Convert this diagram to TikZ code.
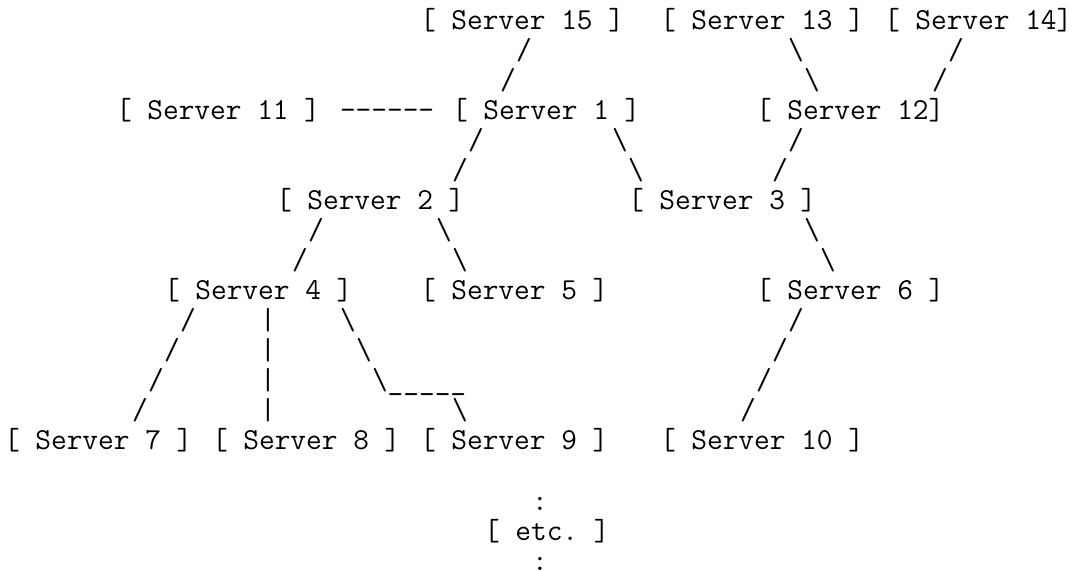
\documentclass[tikz,border=0pt]{standalone}
\usepackage{tikz}
\usetikzlibrary{positioning}
\frenchspacing
\newcommand{\asciifont}{\fontsize{22.86bp}{27bp}\selectfont\ttfamily}

\begin{document}
\begin{tikzpicture}[x=12bp,y=-22.5bp,
  glyph/.style={font=\asciifont,inner sep=0pt,outer sep=0pt,anchor=base west}]
\useasboundingbox (0,0) rectangle (67.25,19.03);
% servers: name / column / row / text
\foreach \n/\c/\r/\lab in {s15/26/1/{[ Server 15 ]},s13/41/1/{[ Server 13 ]},s14/55/1/{[ Server 14]},
  s11/7/4/{[ Server 11 ]},s1/28/4/{[ Server 1 ]},s12/47/4/{[ Server 12]},
  s2/17/7/{[ Server 2 ]},s3/39/7/{[ Server 3 ]},
  s4/10/10/{[ Server 4 ]},s5/26/10/{[ Server 5 ]},s6/47/10/{[ Server 6 ]},
  s7/0/15/{[ Server 7 ]},s8/13/15/{[ Server 8 ]},s9/26/15/{[ Server 9 ]},s10/41/15/{[ Server 10 ]},
  etc/30/18/{[ etc. ]}}{
  \node[glyph] (\n) at (\c+0.25,\r) {\lab};
}
% links drawn as characters
\node[glyph] (dash) at (21.25,4) {-{}-{}-{}-{}-{}-};
\node[glyph] (bend) at (23.25,13) {\textbackslash\_\_\_\_\_};
\foreach \c/\r in {32/2,31/3,59/2,58/3,29/5,28/6,49/5,48/6,19/8,18/9,
  11/11,10/12,9/13,8/14,49/11,48/12,47/13,46/14}{
  \node[glyph] (fw-\c-\r) at (\c+0.25,\r) {/};
}
\foreach \c/\r in {49/2,50/3,38/5,39/6,27/8,28/9,50/8,51/9,21/11,22/12,28/14}{
  \node[glyph] (bw-\c-\r) at (\c+0.25,\r) {\textbackslash};
}
\foreach \r in {11,12,13,14}{
  \node[glyph] (bar-\r) at (16.25,\r) {|};
}
\node[glyph] (dot1) at (33.25,17) {:};
\node[glyph] (dot2) at (33.25,19) {:};
\end{tikzpicture}
\end{document}
